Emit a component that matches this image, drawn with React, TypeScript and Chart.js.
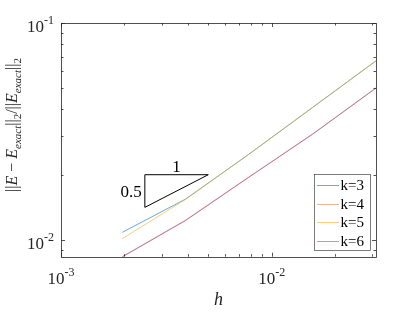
import React, { useEffect, useRef } from "react";
import { Chart, registerables } from "chart.js";

Chart.register(...registerables);

const hValues = [1 / 512, 1 / 256, 1 / 128, 1 / 64, 1 / 32];
const errK3 = [0.01085, 0.01545, 0.0249, 0.0408, 0.0669];
const errK4 = [0.00838, 0.01237, 0.01954, 0.0308, 0.0503];
const errK5 = [0.01014, 0.0154, 0.0249, 0.0409, 0.0671];
const errK6 = [0.00836, 0.0123, 0.0195, 0.0307, 0.0501];
const seriesNames = ["k=3", "k=4", "k=5", "k=6"];
const seriesColors = [
  "rgba(0,114,189,0.6)",
  "rgba(217,83,25,0.45)",
  "rgba(237,177,32,0.6)",
  "rgba(126,47,142,0.5)",
];
const triX = [0.0025, 0.005, 0.0025, 0.0025];
const triY = [0.02, 0.02, 0.02 / Math.SQRT2, 0.02];
const xMajorTicks = [1e-3, 1e-2];
const xMajorExp = ["-3", "-2"];
const yMajorTicks = [1e-2, 1e-1];
const yMajorExp = ["-2", "-1"];
const X_MIN = 1e-3;
const X_MAX = 1 / 32;
const Y_MIN = 0.00838;
const Y_MAX = 0.1;

function minorTicks(min: number, max: number): number[] {
  const out: number[] = [];
  for (let e = -4; e <= 0; e++) {
    for (let m = 1; m <= 9; m++) {
      const v = m * Math.pow(10, e);
      if (v >= min * 0.9999 && v <= max * 1.0001) out.push(v);
    }
  }
  return out;
}

const SERIF = '"Liberation Serif", "DejaVu Serif", serif';

const decorPlugin = {
  id: "decor",
  afterDraw(chart: any) {
    const ctx = chart.ctx as CanvasRenderingContext2D;
    const { left, right, top, bottom } = chart.chartArea;
    const xs = chart.scales.x;
    const ys = chart.scales.y;
    ctx.save();
    // box
    ctx.strokeStyle = "#262626";
    ctx.lineWidth = 0.8;
    ctx.strokeRect(Math.round(left) + 0.5, Math.round(top) + 0.5, Math.round(right - left), Math.round(bottom - top));
    // ticks
    ctx.beginPath();
    for (const v of minorTicks(X_MIN, X_MAX)) {
      const px = Math.round(xs.getPixelForValue(v)) + 0.5;
      const major = xMajorTicks.some((t) => Math.abs(t - v) < 1e-12);
      const len = major ? 4 : 2.5;
      ctx.moveTo(px, bottom);
      ctx.lineTo(px, bottom - len);
      ctx.moveTo(px, top);
      ctx.lineTo(px, top + len);
    }
    for (const v of minorTicks(Y_MIN, Y_MAX)) {
      const py = Math.round(ys.getPixelForValue(v)) + 0.5;
      const major = yMajorTicks.some((t) => Math.abs(t - v) < 1e-12);
      const len = major ? 4 : 2.5;
      ctx.moveTo(left, py);
      ctx.lineTo(left + len, py);
      ctx.moveTo(right, py);
      ctx.lineTo(right - len, py);
    }
    ctx.stroke();

    // tick labels
    ctx.fillStyle = "#262626";
    ctx.textBaseline = "alphabetic";
    const baseFont = `17px ${SERIF}`;
    const supFont = `12px ${SERIF}`;
    xMajorTicks.forEach((v, i) => {
      const px = xs.getPixelForValue(v);
      ctx.font = baseFont;
      const w1 = ctx.measureText("10").width;
      ctx.font = supFont;
      const w2 = ctx.measureText(xMajorExp[i]).width;
      const x0 = px - (w1 + w2) / 2;
      ctx.font = baseFont;
      ctx.textAlign = "left";
      ctx.fillText("10", x0, bottom + 27);
      ctx.font = supFont;
      ctx.fillText(xMajorExp[i], x0 + w1, bottom + 19);
    });
    yMajorTicks.forEach((v, i) => {
      const py = ys.getPixelForValue(v);
      ctx.font = supFont;
      const w2 = ctx.measureText(yMajorExp[i]).width;
      ctx.font = baseFont;
      const w1 = ctx.measureText("10").width;
      const xr = left - 7;
      ctx.textAlign = "left";
      ctx.fillText("10", xr - w1 - w2, py + 9);
      ctx.font = supFont;
      ctx.fillText(yMajorExp[i], xr - w2, py + 1);
    });

    // x label
    ctx.font = `italic 18px ${SERIF}`;
    ctx.textAlign = "center";
    ctx.fillStyle = "#262626";
    ctx.fillText("h", (left + right) / 2, 305);

    // y label
    const segs: [string, string, number][] = [
      ["||", "", 0],
      ["E", "italic ", 0],
      [" \u2212 ", "", 0],
      ["E", "italic ", 0],
      ["exact", "italic sub", 1],
      ["||", "", 0],
      ["2", "sub", 1],
      ["/||", "", 0],
      ["E", "italic ", 0],
      ["exact", "italic sub", 1],
      ["||", "", 0],
      ["2", "sub", 1],
    ];
    const fontFor = (s: string) => {
      const italic = s.includes("italic") ? "italic " : "";
      const size = s.includes("sub") ? 11 : 16;
      return `${italic}${size}px ${SERIF}`;
    };
    let total = 0;
    for (const [t, st] of segs) {
      ctx.font = fontFor(st);
      total += ctx.measureText(t).width;
    }
    ctx.save();
    ctx.translate(12, 125);
    ctx.rotate(-Math.PI / 2);
    ctx.textAlign = "left";
    let cx = -total / 2;
    for (const [t, st, sub] of segs) {
      ctx.font = fontFor(st);
      ctx.fillText(t, cx, sub ? 9 : 5);
      cx += ctx.measureText(t).width;
    }
    ctx.restore();

    // triangle labels
    ctx.font = `17px ${SERIF}`;
    ctx.textAlign = "center";
    ctx.fillStyle = "#000";
    const tx = xs.getPixelForValue(Math.sqrt(triX[0] * triX[1]));
    const ty = ys.getPixelForValue(triY[0]);
    ctx.fillText("1", tx, ty - 3);
    const lx = xs.getPixelForValue(triX[0]);
    const ly = ys.getPixelForValue(Math.sqrt(triY[0] * triY[2]));
    ctx.textAlign = "right";
    ctx.fillText("0.5", lx - 3, ly + 6);

    // legend
    const bx = 314.5, by = 174.5, bw = 56, bh = 76;
    ctx.fillStyle = "#fff";
    ctx.fillRect(bx, by, bw, bh);
    ctx.strokeStyle = "#262626";
    ctx.lineWidth = 0.6;
    ctx.strokeRect(bx, by, bw, bh);
    ctx.font = `15px ${SERIF}`;
    ctx.textAlign = "left";
    seriesNames.forEach((name, i) => {
      const yy = 185 + i * 18.7;
      ctx.strokeStyle = seriesColors[i];
      ctx.lineWidth = 1;
      ctx.beginPath();
      ctx.moveTo(317, Math.round(yy) + 0.5);
      ctx.lineTo(339, Math.round(yy) + 0.5);
      ctx.stroke();
      ctx.fillStyle = "#000";
      ctx.fillText(name, 340.5, yy + 5);
    });
    ctx.restore();
  },
};

export default function App() {
  const ref = useRef<HTMLCanvasElement | null>(null);
  useEffect(() => {
    const prevMargin = document.body.style.margin;
    document.body.style.margin = "0";
    const series = [errK3, errK4, errK5, errK6];
    const datasets: any[] = series.map((vals, i) => ({
      label: seriesNames[i],
      data: hValues.map((h, j) => ({ x: h, y: vals[j] })),
      borderColor: seriesColors[i],
      backgroundColor: seriesColors[i],
      borderWidth: 1,
      pointRadius: 0,
      fill: false,
      tension: 0,
      order: 4 - i,
    }));
    datasets.push({
      label: "slope",
      data: triX.map((x, j) => ({ x, y: triY[j] })),
      borderColor: "#000",
      borderWidth: 1,
      pointRadius: 0,
      fill: false,
      tension: 0,
      order: 0,
    });
    const chart = new Chart(ref.current as HTMLCanvasElement, {
      type: "line",
      data: { datasets },
      options: {
        animation: false,
        responsive: false,
        devicePixelRatio: 1,
        layout: { padding: { left: 0, top: 23, right: 39, bottom: 0 } },
        plugins: { legend: { display: false }, tooltip: { enabled: false } },
        scales: {
          x: {
            type: "logarithmic",
            min: X_MIN,
            max: X_MAX,
            grid: { display: false },
            border: { display: false },
            ticks: { display: false },
            afterFit: (s: any) => {
              s.height = 55.3;
            },
          },
          y: {
            type: "logarithmic",
            min: Y_MIN,
            max: Y_MAX,
            grid: { display: false },
            border: { display: false },
            ticks: { display: false },
            afterFit: (s: any) => {
              s.width = 61;
            },
          },
        },
      } as any,
      plugins: [decorPlugin],
    });
    return () => {
      chart.destroy();
      document.body.style.margin = prevMargin;
    };
  }, []);
  return (
    <div style={{ position: "absolute", left: 0, top: 0, width: 415, height: 312, background: "#fff" }}>
      <canvas ref={ref} width={415} height={312} />
    </div>
  );
}
